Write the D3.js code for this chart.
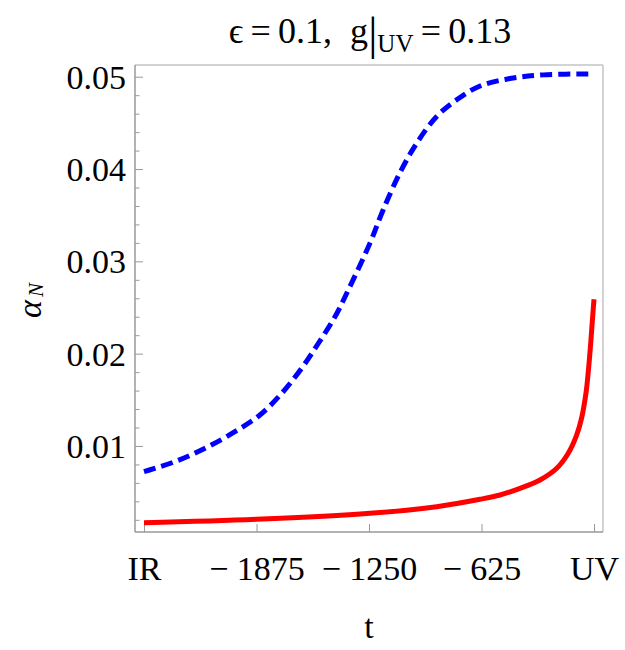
<!DOCTYPE html>
<html>
<head>
<meta charset="utf-8">
<script src="https://cdn.jsdelivr.net/npm/d3@7"></script>
<style>
  body { margin: 0; background: #fff; }
  text { font-family: "Liberation Serif", "DejaVu Serif", serif; fill: #000; }
</style>
</head>
<body>
<svg></svg>
<script>
// Data
const blueT = [-2500, -2328, -2161, -1995, -1856, -1735, -1624, -1532, -1439, -1365, -1244, -1171, -1078, -985, -874, -763, -633, -467, -282, 0];
const blueAlpha = [0.00721, 0.0083, 0.00975, 0.01155, 0.01336, 0.0157, 0.01843, 0.0211, 0.0240, 0.0269, 0.0320, 0.0356, 0.0396, 0.0428, 0.0457, 0.0475, 0.0490, 0.0498, 0.0502, 0.0503];
const redT = [-2500, -1877, -1244, -874, -633, -522, -411, -300, -207, -143, -96, -68, -44, -32, -18, -9, 0];
const redAlpha = [0.00168, 0.00205, 0.0027, 0.00342, 0.00422, 0.00469, 0.00541, 0.00631, 0.00758, 0.00921, 0.0112, 0.0131, 0.0158, 0.0180, 0.0212, 0.0236, 0.0259];
const xTicks = [-2500, -1875, -1250, -625, 0];
const xTickLabels = ["IR", "\u2212 1875", "\u2212 1250", "\u2212 625", "UV"];
const yTicks = [0.01, 0.02, 0.03, 0.04, 0.05];
const yMinorTicks = d3.range(0.002, 0.0505, 0.002).filter(v => !yTicks.some(m => Math.abs(m - v) < 1e-9));

const svgWidth = 625, svgHeight = 650;
const frame = { left: 135, right: 603, top: 65, bottom: 532 };

const svg = d3.select("svg")
    .attr("width", svgWidth)
    .attr("height", svgHeight)
    .style("background-color", "#ffffff");

// Scales (Mathematica-style 2% padding)
const xScale = d3.scaleLinear().domain([-2550, 50]).range([frame.left, frame.right]);
const yScale = d3.scaleLinear().domain([0.00068, 0.05127]).range([frame.bottom, frame.top]);

// Frame: light top/right edges
svg.append("line")
    .attr("x1", frame.left).attr("x2", frame.right)
    .attr("y1", frame.top).attr("y2", frame.top)
    .attr("stroke", "#c4c4c4").attr("stroke-width", 1.5);
svg.append("line")
    .attr("x1", frame.right).attr("x2", frame.right)
    .attr("y1", frame.top).attr("y2", frame.bottom)
    .attr("stroke", "#c4c4c4").attr("stroke-width", 1.5);

// Minor y ticks
svg.append("g")
    .attr("transform", `translate(${frame.left},0)`)
    .call(d3.axisLeft(yScale).tickValues(yMinorTicks).tickSize(-4.5).tickFormat(""))
    .call(g => g.select(".domain").remove())
    .call(g => g.selectAll("line").attr("stroke", "#999"));

// Major y axis
const yAxis = svg.append("g")
    .attr("transform", `translate(${frame.left},0)`)
    .call(d3.axisLeft(yScale).tickValues(yTicks).tickSize(-8).tickPadding(9)
        .tickFormat(d3.format(".2f")));
yAxis.select(".domain").attr("stroke", "#999").attr("stroke-width", 1.5)
    .attr("d", `M0,${frame.top}V${frame.bottom}`);
yAxis.selectAll("line").attr("stroke", "#999");
yAxis.selectAll("text")
    .style("font-size", "34px")
    .attr("dy", "0.34em");

// x axis
const xAxis = svg.append("g")
    .attr("transform", `translate(0,${frame.bottom})`)
    .call(d3.axisBottom(xScale).tickValues(xTicks).tickSize(-8).tickPadding(24)
        .tickFormat((d, i) => xTickLabels[i]));
xAxis.select(".domain").attr("stroke", "#999").attr("stroke-width", 1.5)
    .attr("d", `M${frame.left},0H${frame.right}`);
xAxis.selectAll("line").attr("stroke", "#999");
xAxis.selectAll("text")
    .style("font-size", "34px");

// Curves
const line = d3.line()
    .x(d => xScale(d[0]))
    .y(d => yScale(d[1]))
    .curve(d3.curveCatmullRom.alpha(0.5));

svg.append("path")
    .datum(blueT.map((t, i) => [t, blueAlpha[i]]))
    .attr("fill", "none")
    .attr("stroke", "#0000ff")
    .attr("stroke-width", 5)
    .attr("stroke-dasharray", "12,6")
    .attr("d", line);

svg.append("path")
    .datum(redT.map((t, i) => [t, redAlpha[i]]))
    .attr("fill", "none")
    .attr("stroke", "#ff0000")
    .attr("stroke-width", 5)
    .attr("d", line);

// Title
const title = svg.append("text")
    .attr("x", (frame.left + frame.right) / 2 + 1)
    .attr("y", 43)
    .attr("text-anchor", "middle")
    .style("font-size", "36px");
title.append("tspan").text("\u03f5\u2009=\u20090.1,\u2002g");
title.append("tspan").style("font-size", "46px").attr("dy", 6).text("|");
title.append("tspan").style("font-size", "25px").attr("dy", 3).text("UV");
title.append("tspan").attr("dy", -9).text("\u2009=\u20090.13");

// Axis labels
svg.append("text")
    .attr("x", (frame.left + frame.right) / 2)
    .attr("y", 638)
    .attr("text-anchor", "middle")
    .style("font-size", "34px")
    .text("t");

const yLabel = svg.append("text")
    .attr("transform", `translate(41,${(frame.top + frame.bottom) / 2 + 2}) rotate(-90)`)
    .attr("text-anchor", "middle")
    .style("font-size", "34px");
yLabel.append("tspan").style("font-style", "italic").text("\u03b1");
yLabel.append("tspan").style("font-style", "italic").style("font-size", "21px").attr("dx", 3).attr("dy", 2).text("N");
</script>
</body>
</html>
